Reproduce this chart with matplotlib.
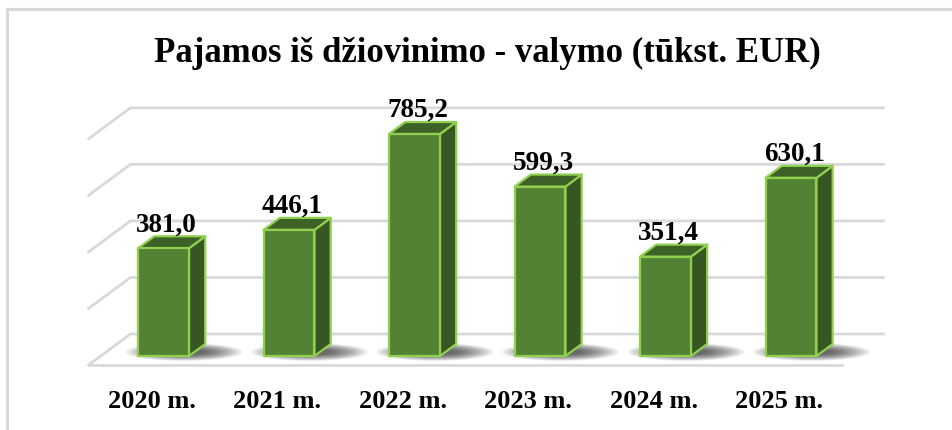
import matplotlib
matplotlib.use('Agg')
import matplotlib.pyplot as plt
from matplotlib.patches import Polygon, Ellipse
from matplotlib.lines import Line2D

# данные
years = ['2020 m.', '2021 m.', '2022 m.', '2023 m.', '2024 m.', '2025 m.']
values = [381.0, 446.1, 785.2, 599.3, 351.4, 630.1]
labels = ['381,0', '446,1', '785,2', '599,3', '351,4', '630,1']
grid_values = [0, 200, 400, 600, 800]
title = 'Pajamos iš džiovinimo - valymo (tūkst. EUR)'

front_col = '#548235'
side_col = '#375623'
top_col = '#3e6127'
edge_col = '#8fd14f'
grid_col = '#d9d9d9'

plt.rcParams['font.family'] = ['Liberation Serif', 'DejaVu Serif']

fig = plt.figure(figsize=(9.53, 4.31), dpi=100)
ax = fig.add_axes([0, 0, 1, 1])
ax.set_xlim(-1.3028, 6.2908)
ax.set_ylim(-261.8, 1262.8)
ax.axis('off')

SLOPE = 1.35      # наклон глубины (px по x на px по y)
BAR_DEPTH = 12    # глубина столбца, px
FLOOR_FRONT = -9
WALL_BACK = 22
HALF = 0.203


def shift(x, v, k):
    px, py = ax.transData.transform((x, v))
    return ax.transData.inverted().transform((px + SLOPE * k, py + k))


# рамка
fig.add_artist(Line2D([7 / 953, 1], [1 - 10 / 431] * 2, color=grid_col, lw=2.2))
fig.add_artist(Line2D([7 / 953] * 2, [0, 1 - 10 / 431], color=grid_col, lw=2.2))

# сетка: задняя стенка + левая стенка
x_left, x_right = -0.5, len(values) - 0.5
for g in grid_values:
    p0 = shift(x_left, g, FLOOR_FRONT)
    p1 = shift(x_left, g, WALL_BACK)
    p2 = shift(x_right, g, WALL_BACK)
    ax.plot([p0[0], p1[0], p2[0]], [p0[1], p1[1], p2[1]], color=grid_col, lw=2, zorder=1)
# передний край пола
f0 = shift(x_left, 0, FLOOR_FRONT)
f1 = shift(x_right, 0, FLOOR_FRONT)
ax.plot([f0[0], f1[0]], [f0[1], f1[1]], color=grid_col, lw=2, zorder=1)

for i, v in enumerate(values):
    # тень
    c = shift(i + 0.12, 0, 4)
    for n in range(9):
        ax.add_patch(Ellipse(c, 0.92 - n * 0.07, 62 - n * 5, color='black',
                             alpha=0.09, lw=0, zorder=2))
    xl, xr = i - HALF, i + HALF
    front = [(xl, 0), (xr, 0), (xr, v), (xl, v)]
    side = [(xr, 0), tuple(shift(xr, 0, BAR_DEPTH)), tuple(shift(xr, v, BAR_DEPTH)), (xr, v)]
    top = [(xl, v), (xr, v), tuple(shift(xr, v, BAR_DEPTH)), tuple(shift(xl, v, BAR_DEPTH))]
    for pts, col in [(side, side_col), (top, top_col), (front, front_col)]:
        ax.add_patch(Polygon(pts, closed=True, fc=col, ec=edge_col, lw=1.6,
                             joinstyle='round', zorder=3))
    ax.annotate(labels[i], (i, v), xytext=(3, BAR_DEPTH + 6), textcoords='offset pixels',
                ha='center', va='baseline', fontsize=19.5, fontweight='bold', zorder=4)
    ax.annotate(years[i], (i, 0), xytext=(-12, -51), textcoords='offset pixels',
                ha='center', va='baseline', fontsize=19, fontweight='bold')

fig.text(487.5 / 953, 1 - 62 / 431, title, ha='center', va='baseline',
         fontsize=25, fontweight='bold')

fig.savefig('out.png', dpi=100)
